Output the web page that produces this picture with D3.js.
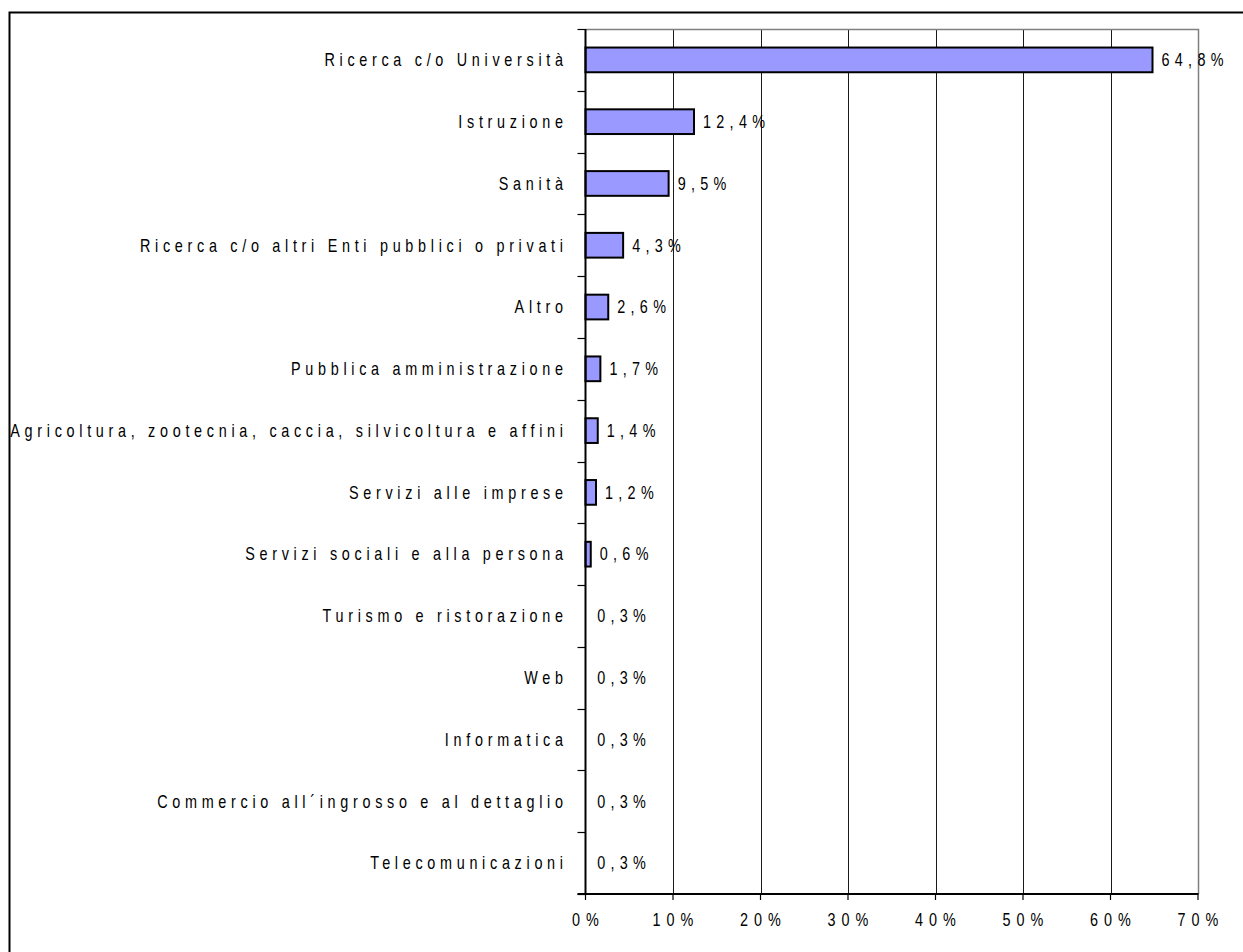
<!DOCTYPE html>
<html>
<head>
<meta charset="utf-8">
<script src="https://cdn.jsdelivr.net/npm/d3@7"></script>
<style>
  html, body { margin: 0; padding: 0; background: #fff; }
  svg { display: block; }
  text { font-family: "Liberation Sans", Arial, sans-serif; fill: #000; }
</style>
</head>
<body>
<script>
const categories = [
  "Ricerca c/o Università",
  "Istruzione",
  "Sanità",
  "Ricerca c/o altri Enti pubblici o privati",
  "Altro",
  "Pubblica amministrazione",
  "Agricoltura, zootecnia, caccia, silvicoltura e affini",
  "Servizi alle imprese",
  "Servizi sociali e alla persona",
  "Turismo e ristorazione",
  "Web",
  "Informatica",
  "Commercio all´ingrosso e al dettaglio",
  "Telecomunicazioni"
];
const values = [64.8, 12.4, 9.5, 4.3, 2.6, 1.7, 1.4, 1.2, 0.6, 0.3, 0.3, 0.3, 0.3, 0.3];
const valueLabels = ["64,8%", "12,4%", "9,5%", "4,3%", "2,6%", "1,7%", "1,4%", "1,2%", "0,6%", "0,3%", "0,3%", "0,3%", "0,3%", "0,3%"];
const xTicks = [0, 10, 20, 30, 40, 50, 60, 70];
const xTickLabels = ["0%", "10%", "20%", "30%", "40%", "50%", "60%", "70%"];

const W = 1243, H = 952;
const plot = { left: 585.5, right: 1198, top: 29, bottom: 894 };
const fontSize = 18, sx = 0.8;
const lsCat = 4.7, lsVal = 5.3, lsTick = 6.0; // screen px

const svg = d3.select("body").append("svg").attr("width", W).attr("height", H);

// outer frame
svg.append("rect").attr("x", 9.5).attr("y", 12.5).attr("width", 1300).attr("height", 1000)
  .attr("fill", "#fff").attr("stroke", "#000").attr("stroke-width", 2);

const x = d3.scaleLinear().domain([0, 70]).range([plot.left, plot.right]);
const y = d3.scaleBand().domain(categories).range([plot.top, plot.bottom]).paddingInner(0.6).paddingOuter(0.3);
const yEdge = d3.scaleBand().domain(categories).range([plot.top, plot.bottom]).padding(0);

// gridlines
svg.append("g").selectAll("line").data(xTicks.filter(t => t > 0 && t < 70)).join("line")
  .attr("x1", d => Math.round(x(d)) + 0.5).attr("x2", d => Math.round(x(d)) + 0.5)
  .attr("y1", plot.top).attr("y2", plot.bottom)
  .attr("stroke", "#1a1a1a").attr("stroke-width", 1);

// plot area top & right border (grey)
svg.append("path")
  .attr("d", `M${plot.left},${plot.top + 0.5}H${plot.right + 0.5}V${plot.bottom}`)
  .attr("fill", "none").attr("stroke", "#808080").attr("stroke-width", 1.5);

// bars (bars narrower than ~3px vanish behind the axis, as in the original rendering)
svg.append("g").selectAll("rect").data(values).join("rect")
  .attr("x", x(0))
  .attr("y", (d, i) => y(categories[i]))
  .attr("width", d => x(d) - x(0))
  .attr("height", y.bandwidth())
  .attr("fill", "#9999FF").attr("stroke", "#000").attr("stroke-width", 2)
  .attr("display", d => (x(d) - x(0)) < 3 ? "none" : null);

// y axis
const yAxisG = svg.append("g");
yAxisG.append("line").attr("x1", plot.left).attr("x2", plot.left).attr("y1", plot.top).attr("y2", plot.bottom + 1)
  .attr("stroke", "#000").attr("stroke-width", 2);
const edges = categories.map(c => yEdge(c)).concat([plot.bottom]);
yAxisG.selectAll("line.tick").data(edges).join("line").attr("class", "tick")
  .attr("x1", plot.left - 8).attr("x2", plot.left)
  .attr("y1", d => Math.round(d) + 0.5).attr("y2", d => Math.round(d) + 0.5)
  .attr("stroke", "#000").attr("stroke-width", 1.2);

// x axis
const xAxisG = svg.append("g");
xAxisG.append("line").attr("x1", plot.left - 8).attr("x2", plot.right + 0.5).attr("y1", plot.bottom).attr("y2", plot.bottom)
  .attr("stroke", "#000").attr("stroke-width", 2);
xAxisG.selectAll("line.tick").data(xTicks).join("line").attr("class", "tick")
  .attr("x1", d => x(d)).attr("x2", d => x(d))
  .attr("y1", plot.bottom).attr("y2", plot.bottom + 6)
  .attr("stroke", "#000").attr("stroke-width", 1.2);

function styledText(sel, ls) {
  return sel.style("font-size", fontSize + "px").style("letter-spacing", (ls / sx) + "px");
}

styledText(xAxisG.selectAll("text").data(xTicks).join("text")
  .attr("transform", d => `translate(${x(d) + lsTick / 2},926) scale(${sx},1)`)
  .attr("text-anchor", "middle"), lsTick)
  .text((d, i) => xTickLabels[i]);

// category labels
styledText(svg.append("g").selectAll("text").data(categories).join("text")
  .attr("transform", d => `translate(${563 + lsCat},${y(d) + y.bandwidth() / 2}) scale(${sx},1)`)
  .attr("dy", "0.35em")
  .attr("text-anchor", "end"), lsCat)
  .text(d => d);

// value labels
styledText(svg.append("g").selectAll("text").data(values).join("text")
  .attr("transform", (d, i) => `translate(${x(d) + 9},${y(categories[i]) + y.bandwidth() / 2}) scale(${sx},1)`)
  .attr("dy", "0.35em"), lsVal)
  .text((d, i) => valueLabels[i]);
</script>
</body>
</html>
